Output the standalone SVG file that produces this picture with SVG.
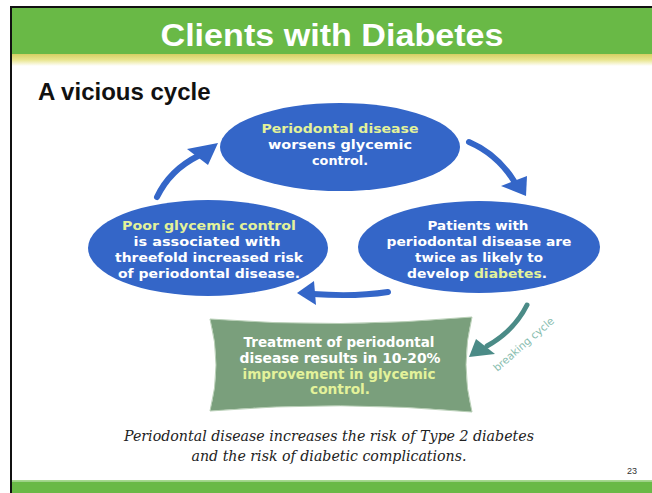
<svg xmlns="http://www.w3.org/2000/svg" width="652" height="493" viewBox="0 0 652 493">
<defs>
<linearGradient id="band" x1="0" y1="0" x2="0" y2="1">
<stop offset="0" stop-color="#d6cf62"/>
<stop offset="0.5" stop-color="#e9e690"/>
<stop offset="1" stop-color="#ffffff"/>
</linearGradient>
<style>
.ell{fill:#3466c8;}
.nt{font-family:"DejaVu Sans",Verdana,sans-serif;font-weight:bold;font-size:13px;fill:#ffffff;text-anchor:middle;}
.yl{fill:#e3f29a;}
.bt{font-family:"DejaVu Sans",Verdana,sans-serif;font-weight:bold;font-size:14px;fill:#ffffff;text-anchor:middle;}
.ar{fill:none;stroke:#3466c8;stroke-width:6;stroke-linecap:round;}
.ah{fill:#3466c8;}
.cap{font-family:"DejaVu Serif","Liberation Serif",serif;font-style:italic;font-size:15px;fill:#222222;text-anchor:middle;}
</style>
</defs>
<rect x="0" y="0" width="652" height="493" fill="#ffffff"/>
<g id="frame">
<rect x="12" y="8" width="640" height="46" fill="#69b946"/>
<rect x="12" y="54" width="640" height="12" fill="url(#band)"/>
<rect x="12" y="480" width="640" height="1.5" fill="#a6d88f"/>
<rect x="12" y="481.5" width="640" height="11.5" fill="#69b946"/>
<rect x="10" y="6" width="642" height="2" fill="#111111"/>
<rect x="10" y="6" width="2" height="487" fill="#111111"/>
<text x="332" y="46" font-family="Liberation Sans,Arial,sans-serif" font-weight="bold" font-size="32" fill="#ffffff" text-anchor="middle" textLength="343" lengthAdjust="spacingAndGlyphs">Clients with Diabetes</text>
<text x="38" y="100" font-family="Liberation Sans,Arial,sans-serif" font-weight="bold" font-size="24" fill="#111111">A vicious cycle</text>
<text x="637" y="474" font-family="Liberation Sans,Arial,sans-serif" font-size="9" fill="#333333" text-anchor="end">23</text>
</g>
<g id="connectors">
<path class="ar" d="M157,197 Q170,170 198,156"/>
<polygon class="ah" points="218,143 187,149 208,165"/>
<path class="ar" d="M469,142 Q497,154 514,181"/>
<polygon class="ah" points="526,196 501,186 527,176"/>
<path class="ar" d="M388,292 Q355,297 313,294"/>
<polygon class="ah" points="297,293 314,281 316,305"/>
<path d="M527,305 Q514,331 487,346" fill="none" stroke="#4b8b87" stroke-width="5" stroke-linecap="round"/>
<polygon points="469,357 476,339 495,354" fill="#4b8b87"/>
<text x="526" y="347" transform="rotate(-41 526 347)" font-family="DejaVu Sans,Verdana,sans-serif" font-size="10.5" fill="#86bcae" text-anchor="middle">breaking cycle</text>
</g>
<g id="node-top">
<ellipse class="ell" cx="340" cy="147" rx="120" ry="44"/>
<text class="nt" y="133" x="340" textLength="157" lengthAdjust="spacingAndGlyphs"><tspan class="yl">Periodontal disease</tspan></text>
<text class="nt" x="340" y="149" textLength="144" lengthAdjust="spacingAndGlyphs">worsens glycemic</text>
<text class="nt" x="340" y="165" textLength="56" lengthAdjust="spacingAndGlyphs">control.</text>
</g>
<g id="node-left">
<ellipse class="ell" cx="208" cy="248" rx="120" ry="48"/>
<text class="nt" y="230" x="209" textLength="174" lengthAdjust="spacingAndGlyphs"><tspan class="yl">Poor glycemic control</tspan></text>
<text class="nt" x="207" y="246" textLength="147" lengthAdjust="spacingAndGlyphs">is associated with</text>
<text class="nt" x="209" y="262" textLength="188" lengthAdjust="spacingAndGlyphs">threefold increased risk</text>
<text class="nt" x="209" y="278" textLength="182" lengthAdjust="spacingAndGlyphs">of periodontal disease.</text>
</g>
<g id="node-right">
<ellipse class="ell" cx="479" cy="247" rx="121" ry="46"/>
<text class="nt" x="478" y="230" textLength="101" lengthAdjust="spacingAndGlyphs">Patients with</text>
<text class="nt" x="479" y="246" textLength="185" lengthAdjust="spacingAndGlyphs">periodontal disease are</text>
<text class="nt" x="479" y="262" textLength="128" lengthAdjust="spacingAndGlyphs">twice as likely to</text>
<text class="nt" x="477" y="278" textLength="140" lengthAdjust="spacingAndGlyphs">develop <tspan class="yl">diabetes</tspan>.</text>
</g>
<g id="node-treatment">
<path d="M210,319 Q340,329 472,317 Q460,365 472,412 Q340,400 210,411 Q222,365 210,319 Z" fill="#7a9f7c" stroke="#b8cfb6" stroke-width="1"/>
<text class="bt" x="339" y="347" textLength="191" lengthAdjust="spacingAndGlyphs">Treatment of periodontal</text>
<text class="bt" x="340" y="363" textLength="201" lengthAdjust="spacingAndGlyphs">disease results in 10-20%</text>
<text class="bt" y="379" x="339" textLength="193" lengthAdjust="spacingAndGlyphs"><tspan class="yl">improvement in glycemic</tspan></text>
<text class="bt" y="394" x="340" textLength="60" lengthAdjust="spacingAndGlyphs"><tspan class="yl">control.</tspan></text>
</g>
<g id="caption">
<text class="cap" x="329" y="441" textLength="410" lengthAdjust="spacingAndGlyphs">Periodontal disease increases the risk of Type 2 diabetes</text>
<text class="cap" x="329" y="461" textLength="275" lengthAdjust="spacingAndGlyphs">and the risk of diabetic complications.</text>
</g>
</svg>
